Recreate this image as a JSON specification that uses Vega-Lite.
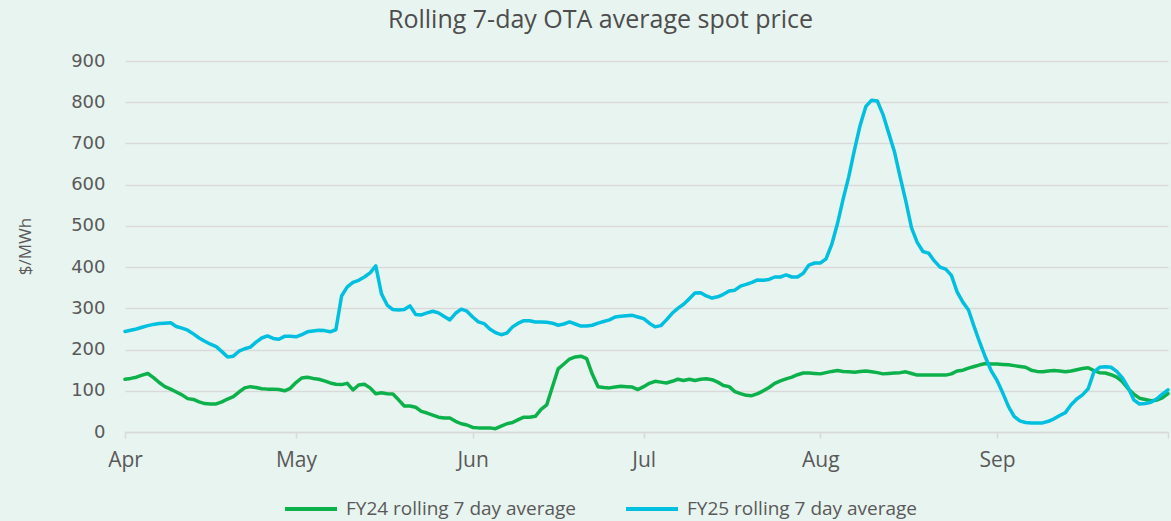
{
"$schema": "https://vega.github.io/schema/vega-lite/v6.json",
"autosize": {"type": "none"},
"width": 1043,
"height": 371,
"padding": {"left": 125, "top": 61, "right": 3, "bottom": 89},
"background": "#e8f4ef",
"title": {"text": "Rolling 7-day OTA average spot price", "font": "Open Sans", "fontSize": 25, "fontWeight": "normal", "color": "#4d4d4d", "anchor": "middle", "frame": "group", "dx": -46, "offset": 19},
"config": {"view": {"stroke": null}, "font": "Open Sans"},
"data": {"values": [
{"d":"2024/04/01","FY24":128,"FY25":244},{"d":"2024/04/02","FY24":130,"FY25":247},{"d":"2024/04/03","FY24":133,"FY25":250},{"d":"2024/04/04","FY24":138,"FY25":254},{"d":"2024/04/05","FY24":142,"FY25":258},{"d":"2024/04/06","FY24":132,"FY25":261},{"d":"2024/04/07","FY24":120,"FY25":263},{"d":"2024/04/08","FY24":110,"FY25":264},{"d":"2024/04/09","FY24":104,"FY25":265},{"d":"2024/04/10","FY24":97,"FY25":256},
{"d":"2024/04/11","FY24":90,"FY25":252},{"d":"2024/04/12","FY24":81,"FY25":247},{"d":"2024/04/13","FY24":79,"FY25":238},{"d":"2024/04/14","FY24":73,"FY25":228},{"d":"2024/04/15","FY24":69,"FY25":220},{"d":"2024/04/16","FY24":68,"FY25":213},{"d":"2024/04/17","FY24":68,"FY25":207},{"d":"2024/04/18","FY24":73,"FY25":195},{"d":"2024/04/19","FY24":80,"FY25":182},{"d":"2024/04/20","FY24":86,"FY25":184},
{"d":"2024/04/21","FY24":97,"FY25":196},{"d":"2024/04/22","FY24":107,"FY25":202},{"d":"2024/04/23","FY24":110,"FY25":206},{"d":"2024/04/24","FY24":108,"FY25":218},{"d":"2024/04/25","FY24":105,"FY25":228},{"d":"2024/04/26","FY24":104,"FY25":233},{"d":"2024/04/27","FY24":104,"FY25":227},{"d":"2024/04/28","FY24":103,"FY25":225},{"d":"2024/04/29","FY24":100,"FY25":232},{"d":"2024/04/30","FY24":106,"FY25":232},
{"d":"2024/05/01","FY24":120,"FY25":231},{"d":"2024/05/02","FY24":131,"FY25":236},{"d":"2024/05/03","FY24":133,"FY25":243},{"d":"2024/05/04","FY24":130,"FY25":245},{"d":"2024/05/05","FY24":128,"FY25":247},{"d":"2024/05/06","FY24":124,"FY25":246},{"d":"2024/05/07","FY24":119,"FY25":243},{"d":"2024/05/08","FY24":116,"FY25":248},{"d":"2024/05/09","FY24":115,"FY25":330},{"d":"2024/05/10","FY24":118,"FY25":352},
{"d":"2024/05/11","FY24":102,"FY25":363},{"d":"2024/05/12","FY24":114,"FY25":368},{"d":"2024/05/13","FY24":116,"FY25":376},{"d":"2024/05/14","FY24":107,"FY25":386},{"d":"2024/05/15","FY24":93,"FY25":403},{"d":"2024/05/16","FY24":95,"FY25":335},{"d":"2024/05/17","FY24":93,"FY25":308},{"d":"2024/05/18","FY24":92,"FY25":297},{"d":"2024/05/19","FY24":78,"FY25":296},{"d":"2024/05/20","FY24":63,"FY25":297},
{"d":"2024/05/21","FY24":63,"FY25":306},{"d":"2024/05/22","FY24":60,"FY25":285},{"d":"2024/05/23","FY24":50,"FY25":284},{"d":"2024/05/24","FY24":46,"FY25":289},{"d":"2024/05/25","FY24":41,"FY25":293},{"d":"2024/05/26","FY24":36,"FY25":289},{"d":"2024/05/27","FY24":34,"FY25":280},{"d":"2024/05/28","FY24":34,"FY25":272},{"d":"2024/05/29","FY24":26,"FY25":288},{"d":"2024/05/30","FY24":20,"FY25":298},
{"d":"2024/05/31","FY24":17,"FY25":293},{"d":"2024/06/01","FY24":11,"FY25":279},{"d":"2024/06/02","FY24":10,"FY25":267},{"d":"2024/06/03","FY24":10,"FY25":263},{"d":"2024/06/04","FY24":10,"FY25":250},{"d":"2024/06/05","FY24":8,"FY25":241},{"d":"2024/06/06","FY24":14,"FY25":236},{"d":"2024/06/07","FY24":20,"FY25":240},{"d":"2024/06/08","FY24":23,"FY25":255},{"d":"2024/06/09","FY24":30,"FY25":264},
{"d":"2024/06/10","FY24":36,"FY25":270},{"d":"2024/06/11","FY24":36,"FY25":270},{"d":"2024/06/12","FY24":38,"FY25":267},{"d":"2024/06/13","FY24":55,"FY25":267},{"d":"2024/06/14","FY24":66,"FY25":266},{"d":"2024/06/15","FY24":110,"FY25":264},{"d":"2024/06/16","FY24":153,"FY25":259},{"d":"2024/06/17","FY24":165,"FY25":262},{"d":"2024/06/18","FY24":177,"FY25":267},{"d":"2024/06/19","FY24":182,"FY25":262},
{"d":"2024/06/20","FY24":184,"FY25":257},{"d":"2024/06/21","FY24":178,"FY25":257},{"d":"2024/06/22","FY24":140,"FY25":259},{"d":"2024/06/23","FY24":110,"FY25":264},{"d":"2024/06/24","FY24":108,"FY25":268},{"d":"2024/06/25","FY24":107,"FY25":272},{"d":"2024/06/26","FY24":109,"FY25":279},{"d":"2024/06/27","FY24":111,"FY25":281},{"d":"2024/06/28","FY24":110,"FY25":282},{"d":"2024/06/29","FY24":109,"FY25":283},
{"d":"2024/06/30","FY24":103,"FY25":279},{"d":"2024/07/01","FY24":110,"FY25":275},{"d":"2024/07/02","FY24":118,"FY25":264},{"d":"2024/07/03","FY24":123,"FY25":255},{"d":"2024/07/04","FY24":121,"FY25":258},{"d":"2024/07/05","FY24":119,"FY25":272},{"d":"2024/07/06","FY24":123,"FY25":288},{"d":"2024/07/07","FY24":128,"FY25":300},{"d":"2024/07/08","FY24":125,"FY25":310},{"d":"2024/07/09","FY24":128,"FY25":323},
{"d":"2024/07/10","FY24":125,"FY25":337},{"d":"2024/07/11","FY24":128,"FY25":338},{"d":"2024/07/12","FY24":129,"FY25":330},{"d":"2024/07/13","FY24":127,"FY25":325},{"d":"2024/07/14","FY24":121,"FY25":328},{"d":"2024/07/15","FY24":113,"FY25":334},{"d":"2024/07/16","FY24":110,"FY25":342},{"d":"2024/07/17","FY24":98,"FY25":344},{"d":"2024/07/18","FY24":93,"FY25":354},{"d":"2024/07/19","FY24":89,"FY25":358},
{"d":"2024/07/20","FY24":88,"FY25":363},{"d":"2024/07/21","FY24":93,"FY25":369},{"d":"2024/07/22","FY24":100,"FY25":368},{"d":"2024/07/23","FY24":108,"FY25":370},{"d":"2024/07/24","FY24":118,"FY25":376},{"d":"2024/07/25","FY24":124,"FY25":376},{"d":"2024/07/26","FY24":129,"FY25":381},{"d":"2024/07/27","FY24":133,"FY25":376},{"d":"2024/07/28","FY24":139,"FY25":376},{"d":"2024/07/29","FY24":143,"FY25":385},
{"d":"2024/07/30","FY24":143,"FY25":405},{"d":"2024/07/31","FY24":142,"FY25":410},{"d":"2024/08/01","FY24":141,"FY25":410},{"d":"2024/08/02","FY24":144,"FY25":420},{"d":"2024/08/03","FY24":147,"FY25":455},{"d":"2024/08/04","FY24":149,"FY25":505},{"d":"2024/08/05","FY24":147,"FY25":565},{"d":"2024/08/06","FY24":146,"FY25":620},{"d":"2024/08/07","FY24":145,"FY25":685},{"d":"2024/08/08","FY24":147,"FY25":745},
{"d":"2024/08/09","FY24":148,"FY25":790},{"d":"2024/08/10","FY24":146,"FY25":805},{"d":"2024/08/11","FY24":144,"FY25":803},{"d":"2024/08/12","FY24":141,"FY25":770},{"d":"2024/08/13","FY24":142,"FY25":725},{"d":"2024/08/14","FY24":143,"FY25":680},{"d":"2024/08/15","FY24":144,"FY25":619},{"d":"2024/08/16","FY24":146,"FY25":560},{"d":"2024/08/17","FY24":142,"FY25":495},{"d":"2024/08/18","FY24":138,"FY25":460},
{"d":"2024/08/19","FY24":138,"FY25":438},{"d":"2024/08/20","FY24":138,"FY25":434},{"d":"2024/08/21","FY24":138,"FY25":415},{"d":"2024/08/22","FY24":138,"FY25":400},{"d":"2024/08/23","FY24":138,"FY25":395},{"d":"2024/08/24","FY24":141,"FY25":380},{"d":"2024/08/25","FY24":148,"FY25":340},{"d":"2024/08/26","FY24":150,"FY25":315},{"d":"2024/08/27","FY24":155,"FY25":296},{"d":"2024/08/28","FY24":159,"FY25":255},
{"d":"2024/08/29","FY24":163,"FY25":216},{"d":"2024/08/30","FY24":166,"FY25":180},{"d":"2024/08/31","FY24":165,"FY25":148},{"d":"2024/09/01","FY24":165,"FY25":125},{"d":"2024/09/02","FY24":164,"FY25":95},{"d":"2024/09/03","FY24":163,"FY25":62},{"d":"2024/09/04","FY24":161,"FY25":38},{"d":"2024/09/05","FY24":159,"FY25":27},{"d":"2024/09/06","FY24":157,"FY25":23},{"d":"2024/09/07","FY24":150,"FY25":22},
{"d":"2024/09/08","FY24":147,"FY25":22},{"d":"2024/09/09","FY24":146,"FY25":22},{"d":"2024/09/10","FY24":148,"FY25":26},{"d":"2024/09/11","FY24":149,"FY25":32},{"d":"2024/09/12","FY24":148,"FY25":40},{"d":"2024/09/13","FY24":146,"FY25":47},{"d":"2024/09/14","FY24":148,"FY25":66},{"d":"2024/09/15","FY24":151,"FY25":80},{"d":"2024/09/16","FY24":154,"FY25":90},{"d":"2024/09/17","FY24":156,"FY25":105},
{"d":"2024/09/18","FY24":149,"FY25":146},{"d":"2024/09/19","FY24":144,"FY25":157},{"d":"2024/09/20","FY24":143,"FY25":158},{"d":"2024/09/21","FY24":139,"FY25":157},{"d":"2024/09/22","FY24":133,"FY25":147},{"d":"2024/09/23","FY24":122,"FY25":131},{"d":"2024/09/24","FY24":105,"FY25":108},{"d":"2024/09/25","FY24":92,"FY25":78},{"d":"2024/09/26","FY24":82,"FY25":68},{"d":"2024/09/27","FY24":79,"FY25":69},
{"d":"2024/09/28","FY24":76,"FY25":72},{"d":"2024/09/29","FY24":77,"FY25":80},{"d":"2024/09/30","FY24":83,"FY25":92},{"d":"2024/10/01","FY24":93,"FY25":102}
]},
"transform": [{"fold": ["FY24", "FY25"], "as": ["series", "value"]}],
"mark": {"type": "line", "strokeWidth": 3.5, "strokeJoin": "round", "strokeCap": "round"},
"encoding": {
  "x": {"field": "d", "type": "temporal", "title": null,
    "scale": {"domain": [{"year": 2024, "month": 4, "date": 1}, {"year": 2024, "month": 10, "date": 1}]},
    "axis": {"values": [{"year": 2024, "month": 4, "date": 1}, {"year": 2024, "month": 5, "date": 1}, {"year": 2024, "month": 6, "date": 1}, {"year": 2024, "month": 7, "date": 1}, {"year": 2024, "month": 8, "date": 1}, {"year": 2024, "month": 9, "date": 1}, {"year": 2024, "month": 10, "date": 1}],
      "labelExpr": "month(datum.value) == 9 ? '' : timeFormat(datum.value, '%b')",
      "grid": false, "domainColor": "#d9d9d9", "domainWidth": 1.5, "tickColor": "#d9d9d9", "tickWidth": 1.5, "tickSize": 6,
      "labelFontSize": 21, "labelColor": "#595959", "labelPadding": 11, "labelFont": "Open Sans", "labelFlush": false}},
  "y": {"field": "value", "type": "quantitative", "title": "$/MWh",
    "scale": {"domain": [0, 900]},
    "axis": {"values": [0,100,200,300,400,500,600,700,800,900], "grid": true, "gridColor": "#d9d9d9", "gridWidth": 1.5, "domain": false, "ticks": false,
      "labelFontSize": 18, "labelColor": "#595959", "labelPadding": 20, "labelFont": "DejaVu Sans",
      "titleFontSize": 17, "titleFontWeight": "normal", "titleColor": "#595959", "titleFont": "Open Sans", "titleX": -91, "titleY": 185}},
  "color": {"field": "series", "type": "nominal",
    "scale": {"domain": ["FY24", "FY25"], "range": ["#0db14b", "#00bfdf"]},
    "legend": {"orient": "none", "legendX": 158, "legendY": 420, "direction": "horizontal", "title": null,
      "labelExpr": "datum.label + ' rolling 7 day average'", "labelLimit": 400,
      "symbolType": "stroke", "symbolSize": 2704, "symbolStrokeWidth": 4,
      "labelFontSize": 19, "labelColor": "#595959", "labelFont": "Open Sans", "labelOffset": 7, "columnPadding": 41}}
}
}
